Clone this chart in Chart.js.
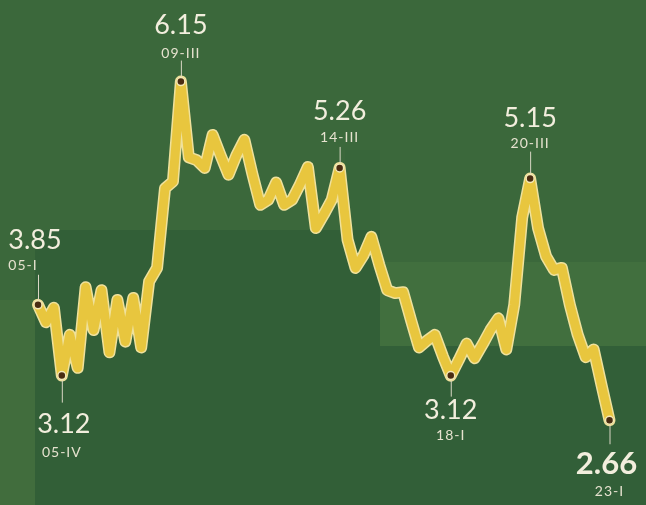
<!DOCTYPE html>
<html><head><meta charset="utf-8">
<script src="https://cdn.jsdelivr.net/npm/chart.js@4"></script>
<style>html,body{margin:0;padding:0;background:#35623a}#wrap{width:646px;height:505px;position:relative}</style>
</head><body><div id="wrap"><canvas id="c" width="646" height="505"></canvas></div>
<script>
// Quarterly series, 2005-Q1 .. 2023-Q1
const quarters = [
 "05-I","05-II","05-III","05-IV","06-I","06-II","06-III","06-IV","07-I","07-II","07-III","07-IV",
 "08-I","08-II","08-III","08-IV","09-I","09-II","09-III","09-IV","10-I","10-II","10-III","10-IV",
 "11-I","11-II","11-III","11-IV","12-I","12-II","12-III","12-IV","13-I","13-II","13-III","13-IV",
 "14-I","14-II","14-III","14-IV","15-I","15-II","15-III","15-IV","16-I","16-II","16-III","16-IV",
 "17-I","17-II","17-III","17-IV","18-I","18-II","18-III","18-IV","19-I","19-II","19-III","19-IV",
 "20-I","20-II","20-III","20-IV","21-I","21-II","21-III","21-IV","22-I","22-II","22-III","22-IV","23-I"
];
const values = [
 3.85,3.67,3.82,3.12,3.54,3.20,4.03,3.59,4.00,3.36,3.90,3.47,
 3.92,3.41,4.09,4.23,5.05,5.12,6.15,5.37,5.34,5.26,5.60,5.39,
 5.19,5.39,5.55,5.20,4.88,4.93,5.11,4.88,4.93,5.09,5.27,4.64,
 4.78,4.93,5.26,4.52,4.23,4.36,4.55,4.26,4.00,3.97,3.98,3.69,
 3.41,3.48,3.54,3.32,3.12,3.28,3.45,3.30,3.44,3.59,3.71,3.39,
 3.85,4.75,5.15,4.64,4.35,4.21,4.23,3.85,3.54,3.31,3.39,3.02,2.66
];
// Highlighted quarters (labelled on the chart)
const markedQuarters = ["05-I","05-IV","09-III","14-III","18-I","20-III","23-I"];
const markedIdx = markedQuarters.map(q => quarters.indexOf(q));

// label placement (style only)
const place = {
 "05-I":  {vx:-3, vy:-64, dx:-15, dy:-39, l0:-30, l1:-5},
 "05-IV": {vx:2,  vy:49,  dx:0,   dy:77,  l0:5,   l1:27},
 "09-III":{vx:0,  vy:-56, dx:0,   dy:-28, l0:-21, l1:-5},
 "14-III":{vx:0,  vy:-57, dx:0,   dy:-30, l0:-21, l1:-5},
 "18-I":  {vx:0,  vy:35,  dx:0,   dy:60,  l0:5,   l1:21},
 "20-III":{vx:0,  vy:-60, dx:0,   dy:-35, l0:-27, l1:-5},
 "23-I":  {vx:-3, vy:44,  dx:0,   dy:71,  l0:5,   l1:24, bold:true}
};

const bgPlugin = {
 id:'bg',
 beforeDraw(chart){
  const c = chart.ctx;
  c.save();
  c.fillStyle = '#3b683b'; c.fillRect(0,0,646,505);
  c.fillStyle = '#325f37'; c.fillRect(35,230,345,275);
  c.fillStyle = '#416d3d'; c.fillRect(0,300,35,205);
  c.fillStyle = '#38663a'; c.fillRect(345,150,35,80);
  c.fillStyle = '#416f3e'; c.fillRect(380,262,266,84);
  c.fillStyle = '#325f38'; c.fillRect(380,346,266,159);
  c.restore();
 }
};

const labelPlugin = {
 id:'marks',
 afterDatasetsDraw(chart){
  const c = chart.ctx;
  const meta = chart.getDatasetMeta(1);
  c.save();
  markedIdx.forEach(i => {
   const q = quarters[i];
   const p = place[q];
   const pt = meta.data[i];
   const x = pt.x, y = pt.y;
   c.strokeStyle = '#d9d6c4'; c.lineWidth = 1;
   c.beginPath(); c.moveTo(x+0.5, y+p.l0); c.lineTo(x+0.5, y+p.l1); c.stroke();
   c.textAlign = 'center'; c.textBaseline = 'middle';
   c.fillStyle = '#f2eedd';
   c.letterSpacing = '0px';
   c.font = p.bold ? 'bold 31px Lato' : '27px Lato';
   c.fillText(values[i].toFixed(2), x+p.vx, y+p.vy);
   c.fillStyle = '#e6e2cf';
   c.letterSpacing = '1px';
   c.font = '14px Lato';
   c.fillText(q, x+p.dx, y+p.dy);
  });
  markedIdx.forEach(i => {
   const pt = meta.data[i];
   c.beginPath(); c.arc(pt.x, pt.y, 4, 0, Math.PI*2);
   c.fillStyle = '#4a2c12'; c.fill();
   c.lineWidth = 1.5; c.strokeStyle = '#f4e9b6'; c.stroke();
  });
  c.restore();
 }
};

new Chart(document.getElementById('c'), {
 type:'line',
 data:{
  labels: quarters,
  datasets:[
   {data: values, borderColor:'#efe19c', borderWidth:12, pointRadius:0, tension:0,
    borderJoinStyle:'round', borderCapStyle:'round', order:2},
   {data: values, borderColor:'#e8c63e', borderWidth:9, pointRadius:0, tension:0,
    borderJoinStyle:'round', borderCapStyle:'round', order:1}
  ]
 },
 options:{
  responsive:false, animation:false, devicePixelRatio:1,
  layout:{padding:{left:38, right:36.5, top:47.6, bottom:20.7}},
  scales:{
   x:{display:false, offset:false},
   y:{display:false, min:2, max:6.5}
  },
  plugins:{legend:{display:false}, tooltip:{enabled:false}},
  clip:false
 },
 plugins:[bgPlugin, labelPlugin]
});
</script></body></html>
